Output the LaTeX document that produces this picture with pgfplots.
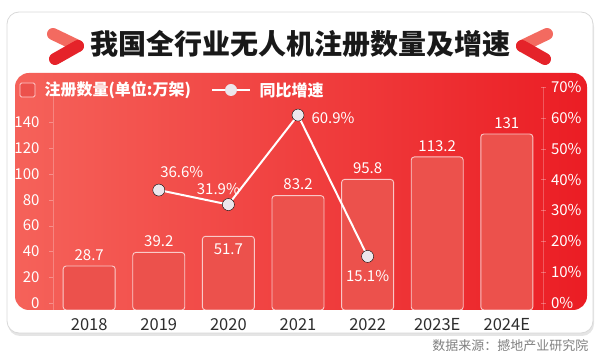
\documentclass[border=0pt]{standalone}
\usepackage{fontspec}
\setmainfont{Noto Sans CJK SC}
\usepackage{pgfplots}
\pgfplotsset{compat=1.18}
\definecolor{bgL}{HTML}{F5625A}
\definecolor{bgM}{HTML}{F23C38}
\definecolor{bgR}{HTML}{EB1D24}
\definecolor{barC}{HTML}{EC514C}
\definecolor{dotC}{RGB}{236,230,236}
\definecolor{chevA}{HTML}{F36A60}
\definecolor{chevB}{HTML}{E5232A}
\pgfplotsset{lbl/.style={draw=none, mark=none, nodes near coords, point meta=explicit symbolic,
  every node near coord/.append style={text=white, font=\fontsize{15}{17}\selectfont, #1}}}

\begin{document}
\begin{tikzpicture}[x=1pt,y=1pt]
\path[use as bounding box] (0,0) rectangle (600,-355);
% card
\fill[black!10, rounded corners=12pt] (8,-15) rectangle (594,-336);
\draw[fill=white, draw=black!15, line width=0.8pt, rounded corners=12pt] (7,-12) rectangle (593,-333);
% panel
\shade[left color=bgL, middle color=bgM, right color=bgR, rounded corners=14pt] (15,-73) rectangle (587,-310);
% chevrons
\draw[chevA, line width=12pt, line cap=round] (53,-34) -- (78,-46);
\draw[chevB, line width=12pt, line cap=round] (78,-46) -- (55,-59);
\draw[chevA, line width=12pt, line cap=round] (547,-34) -- (522,-46);
\draw[chevB, line width=12pt, line cap=round] (522,-46) -- (545,-59);
% title
\node[font=\bfseries\fontsize{28}{32}\selectfont, text=black!90] at (300,-44) {我国全行业无人机注册数量及增速};
% legend
\draw[fill=barC, draw=white!80!red, line width=0.8pt, rounded corners=1.5pt] (20,-83) rectangle (35,-97);
\node[anchor=west, text=white, font=\bfseries\fontsize{16}{18}\selectfont] at (41,-90) {注册数量(单位:万架)};
\draw[white, line width=2pt] (212,-90) -- (250,-90);
\fill[dotC] (231,-90) circle (6);
\node[anchor=west, text=white, font=\bfseries\fontsize{16}{18}\selectfont] at (256,-90) {同比增速};
% source
\node[anchor=east, font=\fontsize{13}{15}\selectfont, text=black!50] at (592,-346) {数据来源：撼地产业研究院};

\begin{axis}[
  scale only axis, width=490pt, height=223pt,
  at={(53pt,-310pt)}, anchor=south west,
  xmin=-0.52, xmax=6.52, ymin=-5.4, ymax=167.4,
  y coord trafo/.code={\pgfmathparse{#1+5.4}},
  y coord inv trafo/.code={\pgfmathparse{#1-5.4}},
  axis y line*=left, axis x line*=bottom,
  x axis line style={draw=none},
  y axis line style={white, opacity=0.25},
  xtick={0,...,6}, xticklabels={2018,2019,2020,2021,2022,2023E,2024E},
  xtick style={draw=none},
  xticklabel style={text=black!82, font=\fontsize{16.5}{18}\selectfont, yshift=-1pt},
  ytick={0,20,40,60,80,100,120,140},
  yticklabels={0,20,40,60,80,100,120,140},
  ytick style={white, opacity=0.3},
  tick align=outside, major tick length=4pt,
  yticklabel style={text=white, font=\fontsize{15}{17}\selectfont, xshift=-6pt},
  clip=false,
]
\addplot[ybar, bar width=52pt, fill=barC, draw=white, draw opacity=0.7, line width=0.9pt, rounded corners=3pt]
  coordinates {(0,28.7) (1,39.2) (2,51.7) (3,83.2) (4,95.8) (5,113.2) (6,131)};
\addplot[lbl={anchor=south, yshift=2pt}]
  coordinates {(0,28.7) [28.7] (1,39.2) [39.2] (3,83.2) [83.2] (4,95.8) [95.8] (5,113.2) [113.2] (6,131) [131]};
\addplot[lbl={anchor=north, yshift=-4pt}]
  coordinates {(2,51.7) [51.7]};
\end{axis}

\begin{axis}[
  scale only axis, width=490pt, height=223pt,
  at={(53pt,-310pt)}, anchor=south west,
  xmin=-0.52, xmax=6.52, ymin=-2.27, ymax=70,
  axis x line=none, axis y line*=right,
  y axis line style={white, opacity=0.25},
  ytick={0,10,...,70},
  yticklabels={0\%,10\%,20\%,30\%,40\%,50\%,60\%,70\%},
  ytick style={white, opacity=0.3},
  tick align=center, major tick length=5pt,
  yticklabel style={text=white, font=\fontsize{15}{17}\selectfont, xshift=2pt},
  clip=false,
]
\addplot[color=white, line width=2pt] coordinates {(1,36.6) (2,31.9) (3,60.9) (4,15.1)};
\addplot[only marks, mark=*, mark size=6pt, mark options={draw=none, fill=dotC}]
  coordinates {(1,36.6) (2,31.9) (3,60.9) (4,15.1)};
\addplot[lbl={anchor=south west, xshift=-2pt, yshift=9pt}] coordinates {(1,36.6) [36.6\%]};
\addplot[lbl={anchor=south, xshift=-10pt, yshift=6pt}] coordinates {(2,31.9) [31.9\%]};
\addplot[lbl={anchor=west, xshift=10pt, yshift=-3pt}] coordinates {(3,60.9) [60.9\%]};
\addplot[lbl={anchor=north, yshift=-10pt}] coordinates {(4,15.1) [15.1\%]};
\end{axis}
\end{tikzpicture}
\end{document}
